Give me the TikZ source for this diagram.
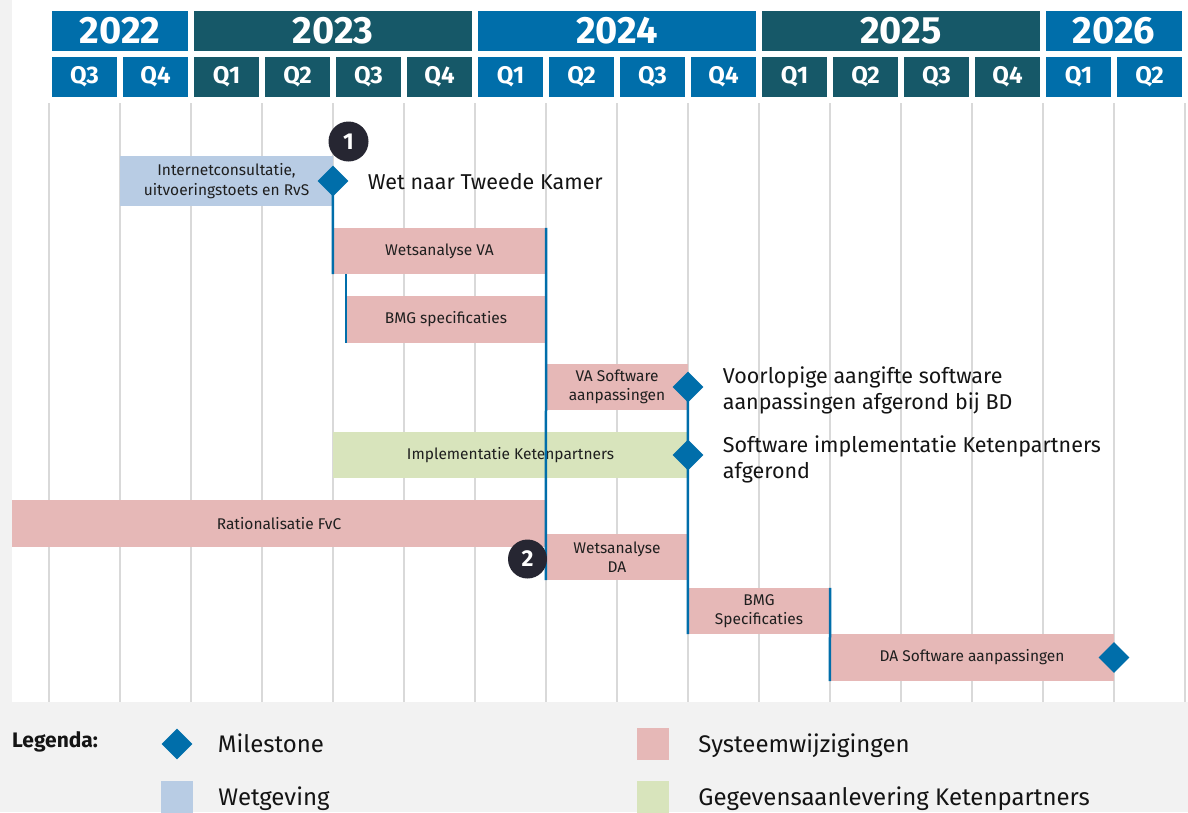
\documentclass[tikz,border=0pt]{standalone}
\usepackage{fontspec}
\setmainfont{Fira Sans}
\usetikzlibrary{positioning,shapes.geometric}

\definecolor{kopblauw}{RGB}{0,110,170}
\definecolor{kopteal}{RGB}{22,88,104}
\definecolor{sysroze}{RGB}{230,184,183}
\definecolor{wetblauw}{RGB}{184,204,228}
\definecolor{ketengroen}{RGB}{216,228,188}
\definecolor{rasterlijn}{RGB}{217,217,217}
\definecolor{achtergrond}{RGB}{242,242,242}
\definecolor{nummerdonker}{RGB}{38,38,50}

\tikzset{
  yearbox/.style={fill=#1, text=white, minimum width=278, minimum height=40, inner sep=0, text depth=1.5pt, font=\fontsize{38}{40}\selectfont\bfseries},
  qbox/.style={fill=#1, text=white, minimum width=65, minimum height=40, inner sep=0, font=\fontsize{24}{26}\selectfont\bfseries},
  balk/.style={fill=#1, minimum height=46, inner sep=0, align=center, text=black!88, font=\fontsize{15.5}{19.5}\selectfont},
  mstone/.style={diamond, fill=kopblauw, minimum width=31, minimum height=31, inner sep=0},
  mlabel/.style={align=left, inner sep=0, text=black!92, font=\fontsize{21.5}{26}\selectfont},
  nummer/.style={circle, fill=nummerdonker, text=white, minimum size=40, inner sep=0, font=\fontsize{23}{24}\selectfont\bfseries},
  lijn/.style={draw=kopblauw, line width=2.5},
  legvak/.style={fill=#1, minimum size=32, inner sep=0},
  legtekst/.style={inner sep=0, text height=0.75em, text depth=0.25em, yshift=-6pt, text=black!92, font=\fontsize{24}{26}\selectfont}
}

\begin{document}
\begin{tikzpicture}[x=1pt, y=-1pt]
			%%%%% START %%%%%
			\useasboundingbox (0,0) rectangle (1188,812);
			\fill[achtergrond] (0,0) rectangle (1188,812);
			\fill[white] (12,0) rectangle (1188,702);
			
			\foreach \k in {0,...,16}
				\draw[rasterlijn, line width=1.5] ({49+71*\k},103) -- ({49+71*\k},702);
			
			% jaren en kwartalen
			\node[yearbox=kopblauw, minimum width=136] (j2022) at (120,31) {2022};
			\node[yearbox=kopteal] (j2023) at (333,31) {2023};
			\node[yearbox=kopblauw] (j2024) at (617,31) {2024};
			\node[yearbox=kopteal] (j2025) at (901,31) {2025};
			\node[yearbox=kopblauw, minimum width=136] (j2026) at (1114,31) {2026};
			
			\foreach \lab/\kl [count=\k from 0] in {Q3/kopblauw, Q4/kopblauw, Q1/kopteal, Q2/kopteal, Q3/kopteal, Q4/kopteal, Q1/kopblauw, Q2/kopblauw, Q3/kopblauw, Q4/kopblauw, Q1/kopteal, Q2/kopteal, Q3/kopteal, Q4/kopteal, Q1/kopblauw, Q2/kopblauw}
				\node[qbox=\kl] (q\k) at ({84.5+71*\k},77) {\lab};
			
			% balken
			\node[balk=wetblauw, minimum width=213, minimum height=50] (intc) at (226.5,181) {Internetconsultatie,\\uitvoeringstoets en RvS};
			\node[balk=sysroze, minimum width=213] (wva) at (439.5,251) {Wetsanalyse VA};
			\node[balk=sysroze, minimum width=200, minimum height=47] (bmg1) at (446,319.5) {BMG specificaties};
			\node[balk=sysroze, minimum width=142] (vasw) at (617,387) {VA Software\\aanpassingen};
			\node[balk=ketengroen, minimum width=355] (impl) at (510.5,455) {Implementatie Ketenpartners};
			\node[balk=sysroze, minimum width=534, minimum height=47] (rat) at (279,523.5) {Rationalisatie FvC};
			\node[balk=sysroze, minimum width=142] (wda) at (617,557) {Wetsanalyse\\DA};
			\node[balk=sysroze, minimum width=142] (bmg2) at (759,611) {BMG\\Specificaties};
			\node[balk=sysroze, minimum width=284, minimum height=47] (dasw) at (972,657.5) {DA Software aanpassingen};
			
			% mijlpalen
			\node[mstone] (m1) at (333,181) {};
			\node[mstone] (m2) at (688,387) {};
			\node[mstone] (m3) at (688,455) {};
			\node[mstone] (m4) at (1114,657.5) {};
			
			\draw[lijn] (m1.center) -- (wva.south west);
			\draw[lijn] (bmg1.west |- wva.south) -- (bmg1.south west);
			\draw[lijn] (wva.north east) -- (wda.south west);
			\draw[lijn] (m2.center) -- (bmg2.south west);
			\draw[lijn] (bmg2.north east) -- (dasw.south west);
			
			\node[mlabel, right=19pt of m1, yshift=-1pt] (m1tekst) {Wet naar Tweede Kamer};
			\node[mlabel, right=19pt of m2, yshift=-3pt] (m2tekst) {Voorlopige aangifte software\\aanpassingen afgerond bij BD};
			\node[mlabel, right=19pt of m3, yshift=-4pt] (m3tekst) {Software implementatie Ketenpartners\\afgerond};
			
			\node[nummer] (n1) at (348.5,141.5) {1};
			\node[nummer, minimum size=39] (n2) at (527.5,559) {2};
			
			% legenda
			\node[legtekst, anchor=west, yshift=4pt, font=\fontsize{21}{24}\selectfont\bfseries] (legenda) at (12,743) {Legenda:};
			\node[mstone] (lm) at (177,744) {};
			\node[legtekst, right=25pt of lm] (lmtekst) {Milestone};
			\node[legvak=wetblauw] (lw) at (177,797) {};
			\node[legtekst, right=25pt of lw] (lwtekst) {Wetgeving};
			\node[legvak=sysroze] (ls) at (652.5,743.5) {};
			\node[legtekst, right=29.5pt of ls] (lstekst) {Systeemwijzigingen};
			\node[legvak=ketengroen] (lk) at (652.5,797) {};
			\node[legtekst, right=29.5pt of lk] (lktekst) {Gegevensaanlevering Ketenpartners};
			
			%%%%% END %%%%%
\end{tikzpicture}
\end{document}
